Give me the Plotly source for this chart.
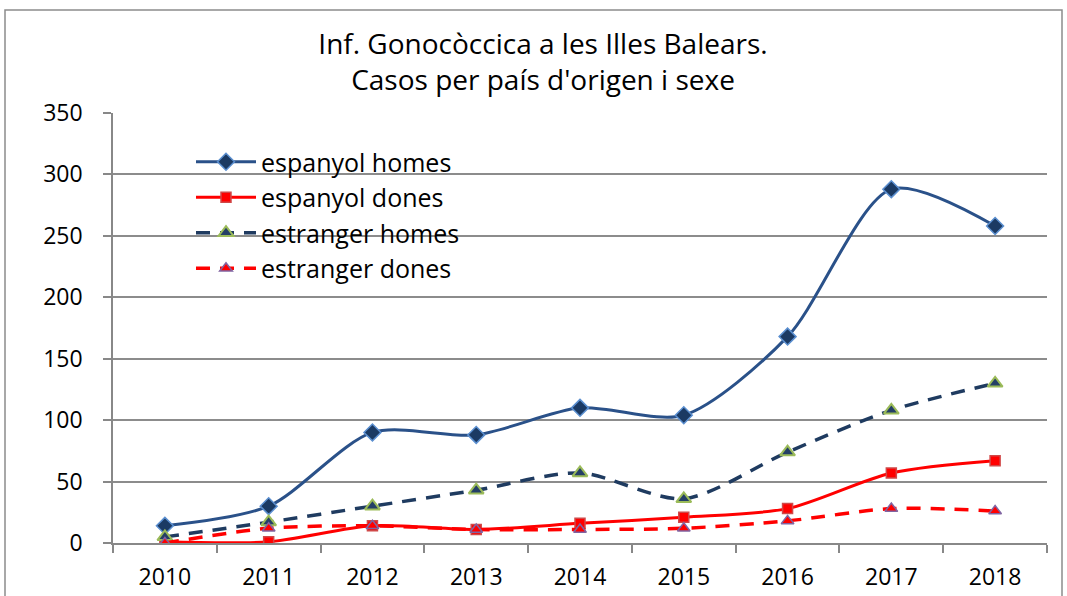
import plotly.graph_objects as go

years = ["2010", "2011", "2012", "2013", "2014", "2015", "2016", "2017", "2018"]
espanyol_homes = [14, 30, 90, 88, 110, 104, 168, 288, 258]
espanyol_dones = [1, 1, 14, 11, 16, 21, 28, 57, 67]
estranger_homes = [5, 17, 30, 43, 57, 36, 74, 108, 130]
estranger_dones = [0, 12, 14, 11, 11, 12, 18, 28, 26]

FONT = "Open Sans"
W, H = 1067, 596
L, R, T, B = 113, 20, 113, 53
pw, ph = W - L - R, H - T - B

fig = go.Figure()
fig.add_trace(go.Scatter(
    x=years, y=espanyol_homes, name="espanyol homes", mode="lines+markers",
    line=dict(color="#2A5189", width=3, shape="spline", smoothing=0.8),
    marker=dict(symbol="diamond", size=13, color="#1B3A63", line=dict(color="#5B8FD0", width=1.5)),
))
fig.add_trace(go.Scatter(
    x=years, y=espanyol_dones, name="espanyol dones", mode="lines+markers",
    line=dict(color="#FF0000", width=3, shape="spline", smoothing=0.8),
    marker=dict(symbol="square", size=10, color="#FF0000", line=dict(color="#D04848", width=1.5)),
))
fig.add_trace(go.Scatter(
    x=years, y=estranger_homes, name="estranger homes", mode="lines+markers",
    line=dict(color="#1F3B60", width=3.5, dash="14px,10px", shape="spline", smoothing=0.8),
    marker=dict(symbol="triangle-up", size=13, color="#243F66", line=dict(color="#9BBB59", width=2)),
))
fig.add_trace(go.Scatter(
    x=years, y=estranger_dones, name="estranger dones", mode="lines+markers",
    line=dict(color="#FF0000", width=3.5, dash="14px,10px", shape="spline", smoothing=0.8),
    marker=dict(symbol="triangle-up", size=11, color="#FF0000", line=dict(color="#8064A2", width=1.5)),
))

fig.update_layout(
    width=W, height=H,
    margin=dict(l=L, r=R, t=T, b=B, autoexpand=False),
    paper_bgcolor="white", plot_bgcolor="white",
    font=dict(family=FONT, size=20, color="#000000"),
    title=dict(
        text="Inf. Gonocòccica a les Illes Balears.<br>Casos per país d'origen i sexe",
        x=543 / W, xanchor="center", xref="container",
        y=1 - 54 / H, yanchor="middle", yref="container",
        font=dict(family=FONT, size=28, color="#000000"),
    ),
    legend=dict(
        x=(191 - L) / pw, y=(T + ph - 139) / ph, xanchor="left", yanchor="top",
        bgcolor="rgba(0,0,0,0)", font=dict(family=FONT, size=25),
        tracegroupgap=0, itemwidth=60,
    ),
    showlegend=True,
    xaxis=dict(
        type="category", range=[-0.5, 8.5], tickson="boundaries",
        ticks="outside", ticklen=8, tickcolor="#888888", tickwidth=1.5,
        showline=True, linecolor="#888888", linewidth=1.5,
        showgrid=False, ticklabelstandoff=13, automargin=False,
        tickfont=dict(family=FONT, size=23),
    ),
    yaxis=dict(
        range=[0, 350], dtick=50, tick0=0,
        ticks="outside", ticklen=8, tickcolor="#888888", tickwidth=1.5,
        showline=True, linecolor="#888888", linewidth=1.5,
        showgrid=True, gridcolor="#8C8C8C", gridwidth=1.5,
        zeroline=False, ticklabelstandoff=16, automargin=False,
        tickfont=dict(family=FONT, size=23),
    ),
    shapes=[dict(
        type="rect", xref="paper", yref="paper",
        x0=(5 - L) / pw, x1=(1062 - L) / pw,
        y0=(T + ph - 620) / ph, y1=(T + ph - 10) / ph,
        line=dict(color="#8C8C8C", width=1.5), fillcolor="rgba(0,0,0,0)", layer="below",
    )],
)

fig.write_html(
    "out.html",
    config={"displayModeBar": False},
    post_script="document.body.style.margin='0px';",
)
